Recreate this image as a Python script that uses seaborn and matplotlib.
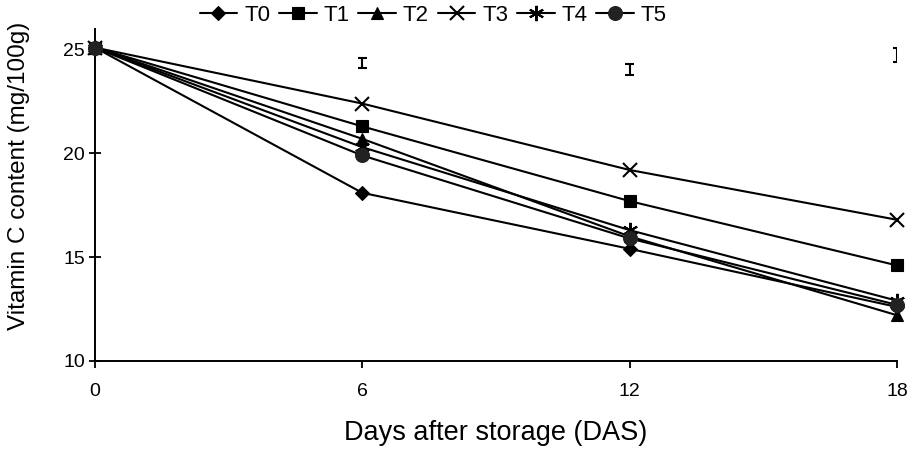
import pandas as pd
import matplotlib.pyplot as plt
import seaborn as sns

days = [0, 6, 12, 18]
treatments = ["T0", "T1", "T2", "T3", "T4", "T5"]
t0 = [25.1, 18.1, 15.4, 12.6]
t1 = [25.1, 21.3, 17.7, 14.6]
t2 = [25.1, 20.7, 16.0, 12.2]
t3 = [25.1, 22.4, 19.2, 16.8]
t4 = [25.1, 20.3, 16.3, 12.9]
t5 = [25.1, 19.9, 15.9, 12.7]

# LSD bars drawn near the top
lsd_days = [6, 12, 18]
lsd_center = [24.35, 24.05, 24.75]
lsd_half = [0.25, 0.25, 0.35]

series = [t0, t1, t2, t3, t4, t5]
rows = []
for name, vals in zip(treatments, series):
    for d, v in zip(days, vals):
        rows.append({"day": d, "vc": v, "trt": name})
df = pd.DataFrame(rows)
lsd = pd.DataFrame({"day": lsd_days, "mid": lsd_center, "half": lsd_half})

sns.set_style("ticks")
plt.rcParams["font.family"] = ["Liberation Sans", "DejaVu Sans"]
plt.rcParams["text.color"] = "black"
plt.rcParams["axes.labelcolor"] = "black"
plt.rcParams["xtick.color"] = "black"
plt.rcParams["ytick.color"] = "black"

fig, ax = plt.subplots(figsize=(9.12, 4.58), dpi=100)
fig.subplots_adjust(left=0.104, right=0.9836, bottom=0.212, top=0.937)

markers = {"T0": "D", "T1": "s", "T2": "^", "T3": "x", "T4": (6, 2, 0), "T5": "o"}
sizes = {"T0": 7, "T1": 9, "T2": 9, "T3": 10, "T4": 11, "T5": 10}
for name in treatments:
    sub = df[df.trt == name]
    sns.lineplot(data=sub, x="day", y="vc", ax=ax, color="black", lw=1.5,
                 marker=markers[name], markersize=sizes[name],
                 markeredgewidth=1.5 if name in ("T3", "T4") else 0.8,
                 markerfacecolor="#222222" if name == "T5" else "black",
                 markeredgecolor="#222222" if name == "T5" else "black",
                 label=name, clip_on=False, zorder=3)

# LSD bars: vertical part plus caps as clipped line collections
cap_w = 0.1
lo = lsd["mid"] - lsd["half"]
hi = lsd["mid"] + lsd["half"]
ax.vlines(lsd["day"], lo, hi, color="black", lw=1.5)
ax.hlines(lo, lsd["day"] - cap_w, lsd["day"] + cap_w, color="black", lw=1.5)
ax.hlines(hi, lsd["day"] - cap_w, lsd["day"] + cap_w, color="black", lw=1.5)

ax.set_xlim(0, 18)
ax.set_ylim(10, 26)
ax.set_xticks([0, 6, 12, 18])
ax.set_yticks([10, 15, 20, 25])
ax.tick_params(labelsize=14, width=1.3, length=5, color="black", labelcolor="black")
ax.tick_params(axis="x", pad=11)
ax.tick_params(axis="y", direction="inout", length=8, pad=3)
ax.set_xlabel("Days after storage (DAS)", fontsize=19.5, labelpad=14)
ax.set_ylabel("Vitamin C content (mg/100g)", fontsize=17.5, va="center", ha="center")
ax.yaxis.set_label_coords(-0.094, 0.557)
for s in ["left", "bottom"]:
    ax.spines[s].set_linewidth(1.4)
    ax.spines[s].set_color("black")
sns.despine(ax=ax)

ax.legend(loc="center", bbox_to_anchor=(0.475, 0.967), bbox_transform=fig.transFigure,
          ncol=6, frameon=False, fontsize=16, handlelength=1.7, columnspacing=0.4,
          handletextpad=0.3, borderaxespad=0, borderpad=0)

fig.savefig("out.png", dpi=100)
